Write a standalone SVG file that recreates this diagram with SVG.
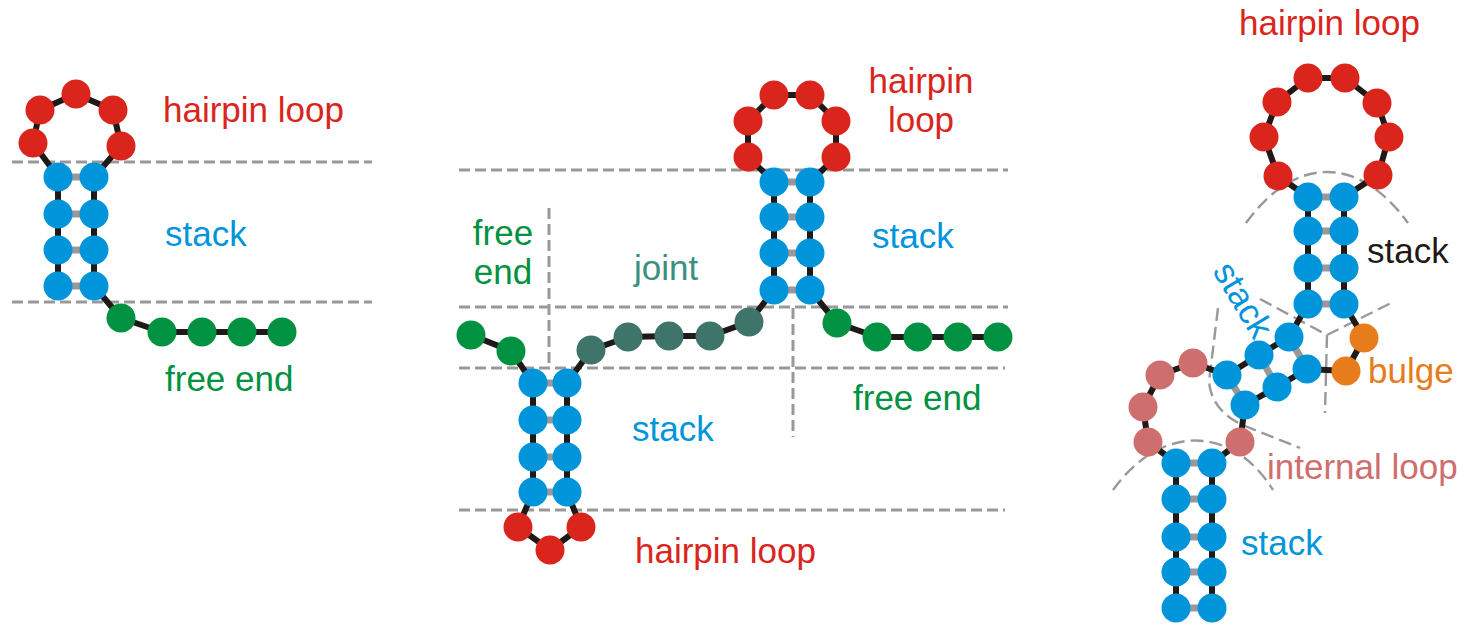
<svg xmlns="http://www.w3.org/2000/svg" width="1475" height="627" viewBox="0 0 1475 627">
<style>
.sep{fill:none;stroke:#999;stroke-width:3;stroke-dasharray:11 5}
.sep2{fill:none;stroke:#999;stroke-width:2.4;stroke-dasharray:13 6}
.bb{fill:none;stroke:#1f1a17;stroke-width:6;stroke-linejoin:round}
.pr{stroke:#999;stroke-width:7}
.r circle{fill:#da251d}
.b circle{fill:#0095da}
.g circle{fill:#009240}
.t circle{fill:#3e7469}
.p circle{fill:#cf6e6e}
.o circle{fill:#e67c1b}
circle{r:14.5}
text{font-family:"Liberation Sans",Arial,sans-serif;font-size:35px}
.lr{fill:#da251d}.lb{fill:#0095da}.lg{fill:#009240}.lt{fill:#3b8f80}.lp{fill:#cf6e6e}.lo{fill:#e67c1b}.lk{fill:#1f1a17}
</style>
<g id="separators">
<line class="sep" x1="12" y1="162" x2="372" y2="162"/>
<line class="sep" x1="12" y1="302" x2="372" y2="302"/>
<line class="sep" x1="459" y1="170" x2="1008" y2="170"/>
<line class="sep" x1="459" y1="307" x2="1008" y2="307"/>
<line class="sep" x1="459" y1="368" x2="1005" y2="368"/>
<line class="sep" x1="459" y1="510" x2="1005" y2="510"/>
<line class="sep" x1="549" y1="208" x2="549" y2="368"/>
<line class="sep" x1="793" y1="308" x2="793" y2="437"/>
<path class="sep2" d="M1246,223 C1295,155 1359,155 1408,223"/>
<path class="sep2" d="M1260,299 L1327,335 L1395,301 M1327,335 L1325,413"/>
<path class="sep2" d="M1218,308 L1209,382 Q1212,412 1245,426 L1300,448"/>
<path class="sep2" d="M1113,490 C1160,424 1232,424 1273,490"/>
</g>
<g id="connectors">
<polyline class="bb" points="58,286 58,177 33,143 40,110 76,94 113,110 121,146 94,177 94,286 121,318 162,332 282,332"/>
<line class="pr" x1="58" y1="177" x2="94" y2="177"/><line class="pr" x1="58" y1="214" x2="94" y2="214"/><line class="pr" x1="58" y1="250" x2="94" y2="250"/><line class="pr" x1="58" y1="286" x2="94" y2="286"/>
<polyline class="bb" points="471,335 511,351 533,383 533,492 518,527 550,550 581,527 567,492 567,383 591,350 628,337 669,336 710,336 749,322 774,290 774,182 748,157 748,121 774,95 810,95 836,121 836,157 810,182 810,290 837,323 877,337 918,337 958,337 998,337"/>
<line class="pr" x1="774" y1="182" x2="810" y2="182"/><line class="pr" x1="774" y1="217" x2="810" y2="217"/><line class="pr" x1="774" y1="253" x2="810" y2="253"/><line class="pr" x1="774" y1="290" x2="810" y2="290"/>
<line class="pr" x1="533" y1="383" x2="567" y2="383"/><line class="pr" x1="533" y1="420" x2="567" y2="420"/><line class="pr" x1="533" y1="457" x2="567" y2="457"/><line class="pr" x1="533" y1="492" x2="567" y2="492"/>
<polyline class="bb" points="1176,608 1176,463 1148,442 1143,407 1160,375 1193,363 1227,375 1259,355 1289,337 1308,304 1308,197 1278,176 1264,137 1277,102 1308,78 1345,78 1377,103 1389,137 1378,175 1344,197 1344,304 1364,338 1346,371 1307,369 1277,387 1245,405 1240,442 1212,463 1212,608"/>
<line class="pr" x1="1308" y1="197" x2="1344" y2="197"/><line class="pr" x1="1308" y1="231" x2="1344" y2="231"/><line class="pr" x1="1308" y1="268" x2="1344" y2="268"/><line class="pr" x1="1308" y1="304" x2="1344" y2="304"/>
<line class="pr" x1="1289" y1="337" x2="1307" y2="369"/><line class="pr" x1="1259" y1="355" x2="1277" y2="387"/><line class="pr" x1="1227" y1="375" x2="1245" y2="405"/>
<line class="pr" x1="1176" y1="463" x2="1212" y2="463"/><line class="pr" x1="1176" y1="499" x2="1212" y2="499"/><line class="pr" x1="1176" y1="537" x2="1212" y2="537"/><line class="pr" x1="1176" y1="572" x2="1212" y2="572"/><line class="pr" x1="1176" y1="608" x2="1212" y2="608"/>
</g>
<g id="left-hairpin" class="r"><circle cx="33" cy="143"/><circle cx="40" cy="110"/><circle cx="76" cy="94"/><circle cx="113" cy="110"/><circle cx="121" cy="146"/></g>
<g id="left-stack" class="b"><circle cx="58" cy="177"/><circle cx="94" cy="177"/><circle cx="58" cy="214"/><circle cx="94" cy="214"/><circle cx="58" cy="250"/><circle cx="94" cy="250"/><circle cx="58" cy="286"/><circle cx="94" cy="286"/></g>
<g id="left-free-end" class="g"><circle cx="121" cy="318"/><circle cx="162" cy="332"/><circle cx="202" cy="332"/><circle cx="242" cy="332"/><circle cx="282" cy="332"/></g>
<g id="mid-hairpin-top" class="r"><circle cx="748" cy="157"/><circle cx="748" cy="121"/><circle cx="774" cy="95"/><circle cx="810" cy="95"/><circle cx="836" cy="121"/><circle cx="836" cy="157"/></g>
<g id="mid-stack-top" class="b"><circle cx="774" cy="182"/><circle cx="810" cy="182"/><circle cx="774" cy="217"/><circle cx="810" cy="217"/><circle cx="774" cy="253"/><circle cx="810" cy="253"/><circle cx="774" cy="290"/><circle cx="810" cy="290"/></g>
<g id="mid-joint" class="t"><circle cx="591" cy="350"/><circle cx="628" cy="337"/><circle cx="669" cy="336"/><circle cx="710" cy="336"/><circle cx="749" cy="322"/></g>
<g id="mid-free-end-left" class="g"><circle cx="471" cy="335"/><circle cx="511" cy="351"/></g>
<g id="mid-free-end-right" class="g"><circle cx="837" cy="323"/><circle cx="877" cy="337"/><circle cx="918" cy="337"/><circle cx="958" cy="337"/><circle cx="998" cy="337"/></g>
<g id="mid-stack-bottom" class="b"><circle cx="533" cy="383"/><circle cx="567" cy="383"/><circle cx="533" cy="420"/><circle cx="567" cy="420"/><circle cx="533" cy="457"/><circle cx="567" cy="457"/><circle cx="533" cy="492"/><circle cx="567" cy="492"/></g>
<g id="mid-hairpin-bottom" class="r"><circle cx="518" cy="527"/><circle cx="550" cy="550"/><circle cx="581" cy="527"/></g>
<g id="right-hairpin" class="r"><circle cx="1278" cy="176"/><circle cx="1264" cy="137"/><circle cx="1277" cy="102"/><circle cx="1308" cy="78"/><circle cx="1345" cy="78"/><circle cx="1377" cy="103"/><circle cx="1389" cy="137"/><circle cx="1378" cy="175"/></g>
<g id="right-stack-top" class="b"><circle cx="1308" cy="197"/><circle cx="1344" cy="197"/><circle cx="1308" cy="231"/><circle cx="1344" cy="231"/><circle cx="1308" cy="268"/><circle cx="1344" cy="268"/><circle cx="1308" cy="304"/><circle cx="1344" cy="304"/></g>
<g id="right-bulge" class="o"><circle cx="1364" cy="338"/><circle cx="1346" cy="371"/></g>
<g id="right-stack-diagonal" class="b"><circle cx="1289" cy="337"/><circle cx="1259" cy="355"/><circle cx="1227" cy="375"/><circle cx="1307" cy="369"/><circle cx="1277" cy="387"/><circle cx="1245" cy="405"/></g>
<g id="right-internal-loop" class="p"><circle cx="1193" cy="363"/><circle cx="1160" cy="375"/><circle cx="1143" cy="407"/><circle cx="1148" cy="442"/><circle cx="1240" cy="442"/></g>
<g id="right-stack-bottom" class="b"><circle cx="1176" cy="463"/><circle cx="1212" cy="463"/><circle cx="1176" cy="499"/><circle cx="1212" cy="499"/><circle cx="1176" cy="537"/><circle cx="1212" cy="537"/><circle cx="1176" cy="572"/><circle cx="1212" cy="572"/><circle cx="1176" cy="608"/><circle cx="1212" cy="608"/></g>
<g id="labels">
<text class="lr" x="163" y="122">hairpin loop</text>
<text class="lb" x="165" y="246">stack</text>
<text class="lg" x="165" y="391">free end</text>
<text class="lr" x="921" y="93" text-anchor="middle">hairpin</text>
<text class="lr" x="921" y="132" text-anchor="middle">loop</text>
<text class="lg" x="503" y="245" text-anchor="middle">free</text>
<text class="lg" x="503" y="284" text-anchor="middle">end</text>
<text class="lt" x="634" y="280">joint</text>
<text class="lb" x="872" y="248">stack</text>
<text class="lg" x="853" y="410">free end</text>
<text class="lb" x="632" y="441">stack</text>
<text class="lr" x="635" y="563">hairpin loop</text>
<text class="lr" x="1239" y="35">hairpin loop</text>
<text class="lk" x="1367" y="263">stack</text>
<text class="lb" transform="translate(1233,306) rotate(59)" text-anchor="middle">stack</text>
<text class="lo" x="1368" y="383">bulge</text>
<text class="lp" x="1267" y="479">internal loop</text>
<text class="lb" x="1241" y="555">stack</text>
</g>
</svg>
